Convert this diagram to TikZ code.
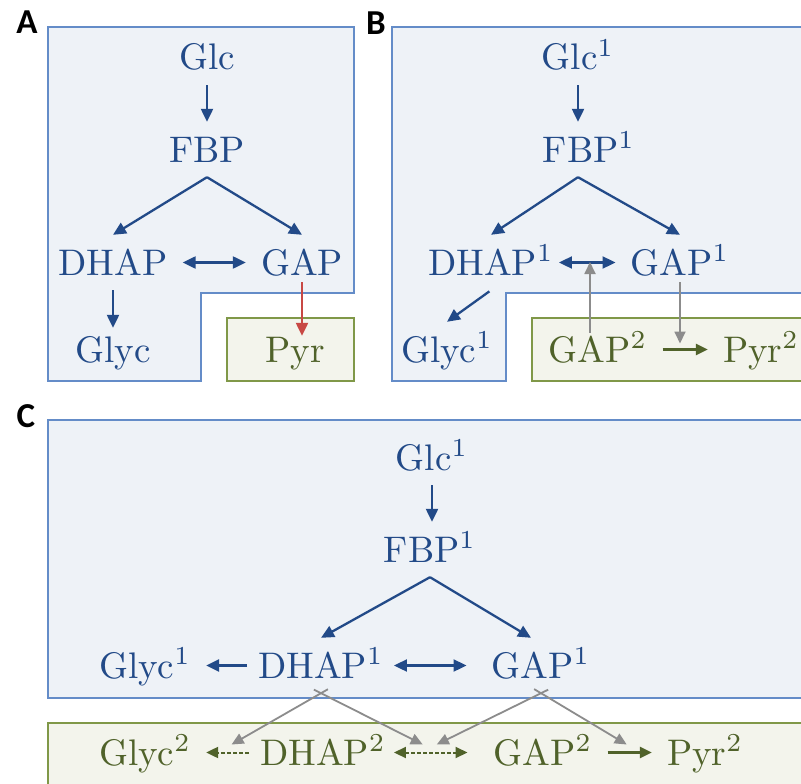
\documentclass[tikz,border=0pt]{standalone}
\usepackage{fontspec}
\usepackage{graphicx}
\usetikzlibrary{arrows.meta,calc}
\newfontfamily\labfont{Carlito}
\definecolor{cblue}{RGB}{34,74,136}
\definecolor{bordblue}{RGB}{100,140,200}
\definecolor{fillblue}{RGB}{238,242,247}
\definecolor{cgreen}{RGB}{80,98,42}
\definecolor{bordgreen}{RGB}{128,152,72}
\definecolor{fillgreen}{RGB}{243,244,236}
\definecolor{cred}{RGB}{200,72,68}
\definecolor{cgray}{RGB}{140,140,140}
\newcommand{\T}[1]{\scalebox{3.7}{#1}}
\tikzset{
  txt/.style={anchor=base, inner sep=15pt, text height=25pt, text depth=0pt},
  btxt/.style={txt, text=cblue},
  gtxt/.style={txt, text=cgreen},
  lab/.style={anchor=base, inner sep=0pt, font=\fontsize{35}{35}\selectfont\labfont\bfseries},
  bluepanel/.style={draw=bordblue, fill=fillblue, line width=1.5pt},
  greenpanel/.style={draw=bordgreen, fill=fillgreen, line width=1.5pt},
  barrow/.style={draw=cblue, line width=2.3pt, -{Triangle[length=13pt,width=12pt]}},
  bdarrow/.style={draw=cblue, line width=2.3pt, {Triangle[length=13pt,width=12pt]}-{Triangle[length=13pt,width=12pt]}},
  rarrow/.style={draw=cred, line width=2.3pt, -{Triangle[length=13pt,width=12pt]}},
  grnarrow/.style={draw=cgreen, line width=2.3pt, -{Triangle[length=12pt,width=11pt]}},
  grndash/.style={draw=cgreen, line width=2pt, dash pattern=on 4pt off 2pt, -{Triangle[length=12pt,width=11pt]}},
  grndashd/.style={draw=cgreen, line width=2pt, dash pattern=on 4pt off 2pt, {Triangle[length=12pt,width=11pt]}-{Triangle[length=12pt,width=11pt]}},
  grayarrow/.style={draw=cgray, line width=1.8pt, -{Triangle[length=12pt,width=11pt]}}
}
\begin{document}
\begin{tikzpicture}[x=1pt,y=-1pt]
\clip (0,0) rectangle (801,784);
\fill[white] (0,0) rectangle (801,784);
% ---------- panel A ----------
\node[lab] (labA) at (27,34) {A};
\draw[bluepanel] (48,27) -- (354,27) -- (354,293) -- (201,293) -- (201,381) -- (48,381) -- cycle;
\draw[greenpanel] (227,318) rectangle (354,381);
\node[btxt] (glcA) at (207,70) {\T{Glc}};
\node[btxt] (fbpA) at (207,162) {\T{FBP}};
\node[btxt] (dhapA) at (113,275) {\T{DHAP}};
\node[btxt] (gapA) at (302,275) {\T{GAP}};
\node[btxt] (glycA) at (113,362) {\T{Glyc}};
\node[gtxt] (pyrA) at (295,362) {\T{Pyr}};
\draw[barrow] (glcA.south) -- (fbpA.north);
\draw[barrow] (fbpA.south) -- (dhapA.north);
\draw[barrow] (fbpA.south) -- (gapA.north);
\draw[bdarrow] (dhapA.east) -- (gapA.west);
\draw[barrow, shorten >=-6pt] (dhapA.south) -- (glycA.north);
\draw[rarrow, shorten <=-8pt, shorten >=-14pt] (gapA.south) -- (gapA.south |- pyrA.north);
% ---------- panel B ----------
\node[lab] (labB) at (376,35) {B};
\draw[bluepanel] (392,27) -- (812,27) -- (812,293) -- (506,293) -- (506,381) -- (392,381) -- cycle;
\draw[greenpanel] (532,318) rectangle (812,381);
\node[btxt] (glcB) at (578,70) {\T{Glc$^1$}};
\node[btxt] (fbpB) at (589,162) {\T{FBP$^1$}};
\node[btxt] (dhapB) at (491,275) {\T{DHAP$^1$}};
\node[btxt] (gapB) at (680,275) {\T{GAP$^1$}};
\node[btxt] (glycB) at (447,362) {\T{Glyc$^1$}};
\node[gtxt] (gap2B) at (598,362) {\T{GAP$^2$}};
\node[gtxt] (pyr2B) at (761,362) {\T{Pyr$^2$}};
\draw[barrow] (glcB.south) -- (glcB.south |- fbpB.north);
\draw[barrow] (glcB |- fbpB.south) -- (dhapB.north);
\draw[barrow] (glcB |- fbpB.south) -- (gapB.north);
\draw[bdarrow, shorten <=-10pt] (dhapB.east) -- (gapB.west);
\coordinate (dgB) at (590,260);
\draw[barrow, shorten <=2pt] (dhapB.south) -- (glycB.north);
\draw[grnarrow] (gap2B.east) -- (pyr2B.west);
\coordinate (gpB) at ($(gap2B.east)!0.5!(pyr2B.west)$);
\draw[grayarrow, shorten <=-11pt, shorten >=2pt] (dgB |- gap2B.north) -- (dgB);
\draw[grayarrow, shorten <=-8pt, shorten >=6pt] (gapB.south) -- (gapB.south |- gpB);
% ---------- panel C ----------
\node[lab] (labC) at (26,427) {C};
\draw[bluepanel] (48,420) rectangle (812,698);
\draw[greenpanel] (48,723) rectangle (812,800);
\node[btxt] (glcC) at (432,470) {\T{Glc$^1$}};
\node[btxt] (fbpC) at (430,562) {\T{FBP$^1$}};
\node[btxt] (glycC) at (145,678) {\T{Glyc$^1$}};
\node[btxt] (dhapC) at (321,678) {\T{DHAP$^1$}};
\node[btxt] (gapC) at (541,678) {\T{GAP$^1$}};
\node[gtxt] (glyc2C) at (145,765) {\T{Glyc$^2$}};
\node[gtxt] (dhap2C) at (323,765) {\T{DHAP$^2$}};
\node[gtxt] (gap2C) at (543,765) {\T{GAP$^2$}};
\node[gtxt] (pyr2C) at (705,765) {\T{Pyr$^2$}};
\draw[barrow] (glcC.south) -- (glcC.south |- fbpC.north);
\draw[barrow] (fbpC.south) -- (dhapC.north);
\draw[barrow] (fbpC.south) -- ([xshift=-10pt]gapC.north);
\draw[barrow, shorten <=-4pt] (dhapC.west) -- (glycC.east);
\draw[bdarrow, shorten <=-5pt, shorten >=10pt] (dhapC.east) -- (gapC.west);
\draw[grndash, shorten <=-4pt] (dhap2C.west) -- (glyc2C.east);
\draw[grndashd, shorten <=-7pt, shorten >=11pt] (dhap2C.east) -- (gap2C.west);
\draw[grnarrow] (gap2C.east) -- (pyr2C.west);
\coordinate (m1) at ($(dhap2C.west)!0.5!(glyc2C.east)$);
\coordinate (m2) at ($(dhap2C.east)!0.5!(gap2C.west)$);
\coordinate (m3) at ($(gap2C.east)!0.5!(pyr2C.west)$);
\coordinate (t1) at ($(m1)+(6,-8)$);
\coordinate (t2) at ($(m2)+(-17,-8)$);
\coordinate (t3) at ($(m2)+(-3,-8)$);
\coordinate (t4) at ($(m3)+(-3,-8)$);
\draw[grayarrow, shorten <=-8pt] (dhapC.south) -- (t1);
\draw[grayarrow, shorten <=-8pt] (dhapC.south) -- (t2);
\draw[grayarrow, shorten <=-8pt] (gapC.south) -- (t3);
\draw[grayarrow, shorten <=-8pt] (gapC.south) -- (t4);
\end{tikzpicture}
\end{document}
